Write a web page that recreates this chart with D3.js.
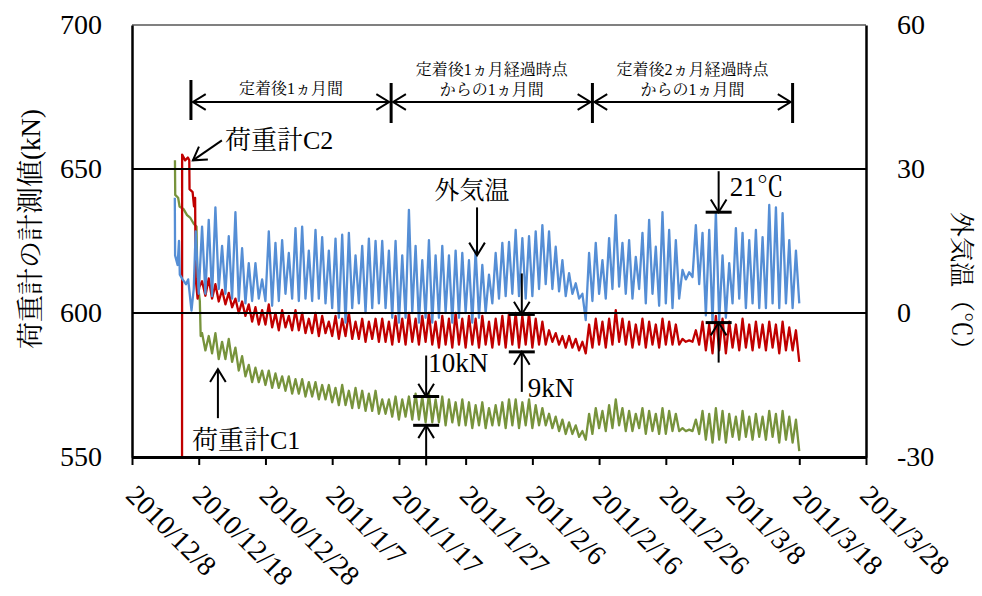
<!DOCTYPE html>
<html>
<head>
<meta charset="utf-8">
<script src="https://cdn.jsdelivr.net/npm/d3@7"></script>
<style>
  html, body { margin: 0; padding: 0; background: #fff; }
  svg text { font-family: "Liberation Serif", "Noto Serif CJK JP", "Noto Sans CJK JP", serif; fill: #000; }
</style>
</head>
<body>
<svg id="chart" width="982" height="596"></svg>
<script>
// ---- axis settings ----
const dateDomain = ["2010-12-08", "2011-03-28"];
const loadTicks = [550, 600, 650, 700];
const tempTicks = [-30, 0, 30, 60];
const loadGrid = [600, 650];

// ---- start-up records: [time, value] ----
const c2Startup = [
  ["2010-12-15 12:00", 550], ["2010-12-15 12:20", 655], ["2010-12-15 23:00", 653],
  ["2010-12-16 09:00", 654], ["2010-12-16 14:00", 653], ["2010-12-16 15:00", 643],
  ["2010-12-17 02:00", 642], ["2010-12-17 07:00", 637], ["2010-12-17 11:00", 640],
  ["2010-12-17 13:00", 612], ["2010-12-17 20:00", 605], ["2010-12-18 02:00", 609]
];
const c1Startup = [
  ["2010-12-14 10:30", 653], ["2010-12-14 11:30", 641], ["2010-12-14 22:00", 640],
  ["2010-12-15 03:00", 637], ["2010-12-15 18:00", 636], ["2010-12-16 06:00", 634],
  ["2010-12-16 18:00", 633], ["2010-12-17 06:00", 631], ["2010-12-17 16:00", 630],
  ["2010-12-17 19:00", 612], ["2010-12-18 04:00", 604], ["2010-12-18 07:00", 592]
];
const tempStartup = [
  ["2010-12-14 10:00", 24], ["2010-12-14 11:00", 12], ["2010-12-14 20:00", 10],
  ["2010-12-15 01:00", 15], ["2010-12-15 04:00", 8], ["2010-12-15 14:00", 7],
  ["2010-12-16 02:00", 6], ["2010-12-16 10:00", 7], ["2010-12-16 22:00", 0.5],
  ["2010-12-17 06:00", 5], ["2010-12-17 13:00", 17], ["2010-12-18 00:00", 4]
];

// ---- 12-hourly records from gridStart (midday, midnight, midday, ...) ----
const gridStart = "2010-12-18 12:00";

// 荷重計C2 (kN)
const c2Values = [
  611,606, 612,605, 610,604, 608,603, 607,602, 605,600, 604,599, 603,597, 602,596, 601,596,
  603,595, 600,594, 601,595, 599,594, 601,594, 600,593, 598,593, 600,592, 599,593, 597,592,
  599,591, 598,592, 600,591, 597,591, 598,590, 597,591, 598,590,
  598,590, 597,589, 599,590, 598,589, 600,590, 598,589, 599,590, 600,589, 597,588, 599,589,
  598,588, 600,589, 598,588, 599,589, 598,588, 599,589, 597,588, 598,589, 599,588, 600,589,
  600,588, 599,589, 600,588, 598,589, 597,589, 594,590, 593,589, 592,588, 592,588, 591,587,
  590,586, 596,588,
  598,589, 597,588, 598,589, 601,590, 598,589, 597,588, 596,589, 598,588, 597,589, 596,588,
  598,589, 597,589, 596,589, 591,590, 590.5,590, 594,589, 597,587, 596,586, 599,587, 598,586,
  597,588, 596,587, 598,588, 596,587, 597,588, 596,587, 597,588, 596,586, 597,587, 595,587,
  594,583
];

// 荷重計C1 (kN)
const c1Values = [
  593,587, 592,586, 593,584, 590,584, 591,583, 588,580, 585,578, 582,576, 581,576, 580,575,
  580,574, 579,574, 578,573, 578,572, 577,572, 577,571, 576,571, 576,570, 575,570, 575,569,
  574,568, 575,568, 573,567, 574,567, 573,566, 572,566, 573,565,
  570,565, 570,564, 571,563, 570,564, 571,563, 572,563, 571,562, 572,562, 570,562, 571,561,
  570,562, 569,561, 570,561, 569,560, 568,561, 569,560, 567,561, 568,561, 569,560, 570,561,
  570,560, 569,561, 570,560, 568,561, 567,561, 565,560, 564,559, 563,558, 562,558, 561,557,
  559,556, 565,558,
  567,560, 566,559, 568,560, 570,561, 567,559, 566,559, 565,560, 567,558, 566,559, 565,558,
  567,558, 566,559, 565,559, 560,559, 559.5,559, 563,558, 566,556, 565,555, 567,556, 566,555,
  565,557, 564,556, 566,557, 564,556, 565,557, 564,556, 566,557, 565,555, 566,556, 564,555,
  563,552
];

// 外気温 (°C)
const tempValues = [
  18,4, 19.4,3.5, 22,5, 14,4, 16,3, 21,2.5, 13.5,2, 10.4,2.5, 10.4,3, 7,2.5,
  17,1.5, 14.6,2.5, 15.2,4, 12.5,3, 17.7,2.5, 18,3, 13,2.5, 17.3,3, 15.8,2, 13,1,
  15.5,-1, 16.3,-2, 16.7,1, 12,2, 14,0, 15.5,1, 15,2,
  15,1, 13,-1, 15,-2, 12,-1, 21.5,0, 14,-2, 11,-1, 15.2,-2, 12,-1, 14,0,
  12,-2, 13,-1, 12.5,0, 11,-2, 13,-1, 10,0, 8,2, 12.5,3, 14.6,3.5, 14.8,4,
  17.3,3.5, 15.6,3, 16,3.5, 17,5, 18.3,6, 17,5, 13.8,4.5, 11,3.5, 8.3,4, 6.2,3,
  4,-1.5, 12.5,2.5,
  14.6,4, 11,3, 15.6,5, 20.4,5.5, 14.6,4, 15.2,3, 11.7,5, 16.7,2, 19.4,4, 13.8,1.5,
  21,2, 17.3,1, 15.2,3, 9,7, 8.5,7.5, 18.3,6, 16.7,-0.5, 17.3,-2, 21,-1.5, 12,-1,
  10.4,2, 17.7,3, 16.7,1, 15.2,2, 17.3,1, 15.8,1, 22.5,2, 22,1, 20.8,2, 15.2,1,
  13,2
];

// ---- annotations ----
const periodBounds = ["2010-12-16 20:00", "2011-01-15 20:00", "2011-02-15 00:00", "2011-03-17 00:00"];
const periodLabels = [["定着後1ヵ月間"], ["定着後1ヵ月経過時点", "からの1ヵ月間"], ["定着後2ヵ月経過時点", "からの1ヵ月間"]];
const c2Callout = { date: "2010-12-17 03:00", value: 653, label: "荷重計C2" };
const c1Callout = { date: "2010-12-20 21:00", value: 580.5, label: "荷重計C1" };
const tempCallout = { date: "2011-01-28 17:00", value: 12, label: "外気温" };
const ranges = [
  { date: "2011-01-21 02:00", hi: 571, lo: 561, label: "10kN", axis: "load", lx: 2, ly: -34, anchorTop: true },
  { date: "2011-02-04 10:00", hi: 599.5, lo: 586.5, label: "9kN", axis: "load", lx: 6, ly: 36, anchorTop: false },
  { date: "2011-03-05 22:00", hi: 21, lo: -2, label: "21℃", axis: "temp", lx: 11, ly: -25, anchorTop: true }
];

const COLORS = { c2: "#C00000", c1: "#77933C", temp: "#558ED5" };

// ---- scales ----
const parseTime = d3.utcParse("%Y-%m-%d %H:%M");
const parseDay = d3.utcParse("%Y-%m-%d");
const box = { left: 132, right: 866, top: 25, bottom: 457 };

const x = d3.scaleUtc().domain(dateDomain.map(parseDay)).range([box.left, box.right]);
const yLoad = d3.scaleLinear().domain([550, 700]).range([box.bottom, box.top]);
const yTemp = d3.scaleLinear().domain([-30, 60]).range([box.bottom, box.top]);

const svg = d3.select("#chart");

function buildSeries(startup, values) {
  const t0 = parseTime(gridStart);
  return startup.map(([t, v]) => ({ t: parseTime(t), v }))
    .concat(values.map((v, i) => ({ t: d3.utcHour.offset(t0, 12 * i), v })));
}

svg.append("defs").append("clipPath").attr("id", "plotClip")
  .append("rect")
  .attr("x", box.left).attr("y", box.top)
  .attr("width", box.right - box.left).attr("height", box.bottom - box.top);

const plot = svg.append("g").attr("clip-path", "url(#plotClip)");

const seriesDefs = [
  { data: buildSeries(c1Startup, c1Values), y: yLoad, color: COLORS.c1 },
  { data: buildSeries(c2Startup, c2Values), y: yLoad, color: COLORS.c2 },
  { data: buildSeries(tempStartup, tempValues), y: yTemp, color: COLORS.temp }
];

seriesDefs.forEach(s => {
  const line = d3.line().x(d => x(d.t)).y(d => s.y(d.v));
  plot.append("path")
    .datum(s.data)
    .attr("d", line)
    .attr("fill", "none")
    .attr("stroke", s.color)
    .attr("stroke-width", 2.3)
    .attr("stroke-linejoin", "round");
});

// ---- grid lines ----
svg.append("line")
  .attr("x1", box.left).attr("x2", box.right)
  .attr("y1", yLoad(700)).attr("y2", yLoad(700))
  .attr("stroke", "#808080").attr("stroke-width", 2);
svg.selectAll(".grid").data(loadGrid).enter().append("line")
  .attr("class", "grid")
  .attr("x1", box.left).attr("x2", box.right)
  .attr("y1", d => yLoad(d)).attr("y2", d => yLoad(d))
  .attr("stroke", "#000").attr("stroke-width", 2);

// ---- axes ----
const tickFont = "28px";
const plain = d => String(d);
const dateTicks = d3.utcDay.range(x.domain()[0], d3.utcDay.offset(x.domain()[1], 1), 10);

const gx = svg.append("g").attr("transform", `translate(0,${box.bottom})`)
  .call(d3.axisBottom(x).tickValues(dateTicks).tickFormat(d3.utcFormat("%Y/%-m/%-d"))
    .tickSize(8).tickSizeOuter(0));
gx.select(".domain").attr("stroke", "#000").attr("stroke-width", 3);
gx.selectAll(".tick line").attr("stroke", "#000").attr("stroke-width", 2);
gx.selectAll(".tick text")
  .attr("x", 0).attr("y", 0).attr("dy", 0)
  .attr("text-anchor", "start")
  .attr("transform", "translate(-8,40) rotate(45)")
  .style("font-size", tickFont);

const gl = svg.append("g").attr("transform", `translate(${box.left},0)`)
  .call(d3.axisLeft(yLoad).tickValues(loadTicks).tickFormat(plain).tickSize(0).tickPadding(30));
gl.select(".domain").attr("stroke", "#000").attr("stroke-width", 2.5);
gl.selectAll(".tick text").style("font-size", tickFont);

const gr = svg.append("g").attr("transform", `translate(${box.right},0)`)
  .call(d3.axisRight(yTemp).tickValues(tempTicks).tickFormat(plain).tickSize(0).tickPadding(31));
gr.select(".domain").attr("stroke", "#000").attr("stroke-width", 2.5);
gr.selectAll(".tick text").style("font-size", tickFont);

// axis titles
svg.append("text")
  .attr("transform", "translate(31,229) rotate(-90)")
  .attr("text-anchor", "middle").attr("dominant-baseline", "central")
  .style("font-size", "27px")
  .text("荷重計の計測値(kN)");

svg.append("text")
  .attr("transform", "translate(961,287) rotate(90)")
  .attr("text-anchor", "middle").attr("dominant-baseline", "central")
  .style("font-size", "25px")
  .text("外気温（℃）");

// ---- annotation helpers ----
const ann = svg.append("g");

function arrow(x1, y1, x2, y2) {
  ann.append("line").attr("x1", x1).attr("y1", y1).attr("x2", x2).attr("y2", y2)
    .attr("stroke", "#000").attr("stroke-width", 2);
  const a = Math.atan2(y2 - y1, x2 - x1), L = 15, s = 0.55;
  const p = d3.path();
  p.moveTo(x2 - L * Math.cos(a - s), y2 - L * Math.sin(a - s));
  p.lineTo(x2, y2);
  p.lineTo(x2 - L * Math.cos(a + s), y2 - L * Math.sin(a + s));
  ann.append("path").attr("d", p.toString()).attr("fill", "none")
    .attr("stroke", "#000").attr("stroke-width", 2);
}

function bar(cx, cy, half) {
  ann.append("line").attr("x1", cx - half).attr("x2", cx + half).attr("y1", cy).attr("y2", cy)
    .attr("stroke", "#000").attr("stroke-width", 3);
}

function label(tx, ty, txt, size, anchor) {
  ann.append("text").attr("x", tx).attr("y", ty)
    .attr("text-anchor", anchor || "start").attr("dominant-baseline", "central")
    .style("font-size", size).text(txt);
}

// measurement periods
const bx = periodBounds.map(d => x(parseTime(d)));
const arrowY = 102;
bx.forEach((px, i) => {
  ann.append("line").attr("x1", px).attr("x2", px)
    .attr("y1", i === 0 ? 80 : 83).attr("y2", i === 0 ? 120 : 123)
    .attr("stroke", "#000").attr("stroke-width", 3);
});
periodLabels.forEach((lines, i) => {
  const a = bx[i], b = bx[i + 1];
  arrow(b - 2, arrowY, a + 2, arrowY);
  arrow(a + 2, arrowY, b - 2, arrowY);
  const cx = (a + b) / 2;
  if (lines.length === 1) {
    label(cx, 88, lines[0], "16px", "middle");
  } else {
    label(cx, 69, lines[0], "16px", "middle");
    label(cx, 89, lines[1], "16px", "middle");
  }
});

// series callouts
{
  const tx = x(parseTime(c2Callout.date)), ty = yLoad(c2Callout.value);
  arrow(tx + 29, ty - 20, tx, ty);
  label(tx + 32, ty - 20, c2Callout.label, "26px");
}
{
  const tx = x(parseTime(c1Callout.date)), ty = yLoad(c1Callout.value);
  arrow(tx, ty + 49, tx, ty);
  label(tx - 26, ty + 71, c1Callout.label, "26px");
}
{
  const tx = x(parseTime(tempCallout.date)), ty = yTemp(tempCallout.value);
  arrow(tx, ty - 48, tx, ty);
  label(tx - 5, ty - 65, tempCallout.label, "25px", "middle");
}

// fluctuation ranges
ranges.forEach(r => {
  const sc = r.axis === "load" ? yLoad : yTemp;
  const cx = x(parseTime(r.date));
  const yHi = sc(r.hi), yLo = sc(r.lo);
  bar(cx, yHi, 13);
  bar(cx, yLo, 13);
  arrow(cx, yHi - 41, cx, yHi);
  arrow(cx, yLo + 40, cx, yLo);
  const ly = r.anchorTop ? yHi + r.ly : yLo + r.ly;
  label(cx + r.lx, ly, r.label, "27px");
});
</script>
</body>
</html>
